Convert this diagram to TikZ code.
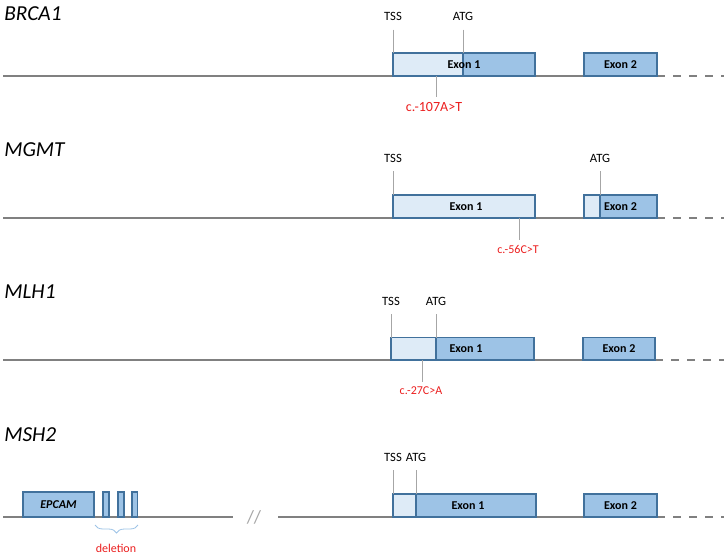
\documentclass[tikz,border=0pt]{standalone}
\usepackage{fontspec}
\setmainfont{Carlito}
\usetikzlibrary{decorations.pathreplacing}
\definecolor{exonfill}{RGB}{157,195,230}
\definecolor{utrfill}{RGB}{222,235,247}
\definecolor{exonline}{RGB}{65,113,156}
\definecolor{dnagray}{RGB}{128,128,128}
\definecolor{tickgray}{RGB}{166,166,166}
\definecolor{mutred}{RGB}{235,30,30}
\begin{document}
\begin{tikzpicture}[x=0.75pt,y=-0.75pt,
  dna/.style={draw=dnagray, line width=1.4pt},
  dnadash/.style={dna, dash pattern=on 6pt off 6pt},
  cds/.style={fill=exonfill, draw=exonline, line width=0.9pt},
  utr/.style={fill=utrfill, draw=exonline, line width=0.9pt},
  exonlabel/.style={font=\fontsize{9}{11}\selectfont\bfseries, inner sep=0pt},
  gene/.style={font=\fontsize{16}{18}\selectfont\itshape, anchor=west, inner sep=0pt},
  site/.style={font=\fontsize{9.5}{11}\selectfont, inner sep=0pt},
  tick/.style={draw=tickgray, line width=0.6pt},
  sitetick/.style={tick, shorten <=6.5pt},
  muttick/.style={tick, shorten >=3.5pt},
  mut/.style={font=\fontsize{9}{11}\selectfont, text=mutred, inner sep=0pt}]
\useasboundingbox (0,0) rectangle (724,556);

% BRCA1
\node[gene] (brca) at (4,14) {BRCA1};
\draw[dna] (3,76) -- (657,76);
\draw[dnadash] (657,76) -- (724,76);
\draw[utr] (393,53) rectangle (463,76);
\draw[cds] (463,53) rectangle (535,76);
\draw[cds] (584,53) rectangle (657,76);
\node[exonlabel] (brcaEa) at (464,64.5) {Exon 1};
\node[exonlabel] (brcaEb) at (620.5,64.5) {Exon 2};
\node[site] (brcaTSS) at (393,16.5) {TSS};
\node[site] (brcaATG) at (463,16.5) {ATG};
\coordinate (brcaTSSpt) at (393,53);
\coordinate (brcaATGpt) at (463,53);
\draw[sitetick] (brcaTSS) -- (brcaTSSpt);
\draw[sitetick] (brcaATG) -- (brcaATGpt);
\coordinate (brcaMutpt) at (436,76);
\node[mut, font=\fontsize{10.5}{12}\selectfont] (brcaMut) at (434,107) {c.-107A>T};
\draw[muttick] (brcaMutpt) -- (brcaMut.north -| brcaMutpt);

% MGMT
\node[gene] (mgmt) at (4,149.5) {MGMT};
\draw[dna] (3,218) -- (657,218);
\draw[dnadash] (657,218) -- (724,218);
\draw[utr] (393,195) rectangle (535,218);
\draw[utr] (584,195) rectangle (600,218);
\draw[cds] (600,195) rectangle (657,218);
\node[exonlabel] (mgmtEa) at (466,206.5) {Exon 1};
\node[exonlabel] (mgmtEb) at (620.5,206.5) {Exon 2};
\node[site] (mgmtTSS) at (393,158) {TSS};
\node[site] (mgmtATG) at (600,158) {ATG};
\coordinate (mgmtTSSpt) at (393,195);
\coordinate (mgmtATGpt) at (600,195);
\draw[sitetick] (mgmtTSS) -- (mgmtTSSpt);
\draw[sitetick] (mgmtATG) -- (mgmtATGpt);
\coordinate (mgmtMutpt) at (519,218);
\node[mut] (mgmtMut) at (518,249) {c.-56C>T};
\draw[muttick] (mgmtMutpt) -- (mgmtMut.north -| mgmtMutpt);

% MLH1
\node[gene] (mlh) at (4,291.5) {MLH1};
\draw[dna] (3,360) -- (655,360);
\draw[dnadash] (655,360) -- (724,360);
\draw[utr] (391,337.5) rectangle (436,360);
\draw[cds] (436,337.5) rectangle (534,360);
\draw[cds] (583,337.5) rectangle (655,360);
\node[exonlabel] (mlhEa) at (466,349) {Exon 1};
\node[exonlabel] (mlhEb) at (619,349) {Exon 2};
\node[site] (mlhTSS) at (391,301) {TSS};
\node[site] (mlhATG) at (436,301) {ATG};
\coordinate (mlhTSSpt) at (391,337.5);
\coordinate (mlhATGpt) at (436,337.5);
\draw[sitetick] (mlhTSS) -- (mlhTSSpt);
\draw[sitetick] (mlhATG) -- (mlhATGpt);
\coordinate (mlhMutpt) at (422,360);
\node[mut] (mlhMut) at (421,391) {c.-27C>A};
\draw[muttick] (mlhMutpt) -- (mlhMut.north -| mlhMutpt);

% MSH2
\node[gene] (msh) at (4,434.5) {MSH2};
\draw[dna] (3,517) -- (233,517);
\draw[dna] (278,517) -- (657,517);
\draw[dnadash] (657,517) -- (724,517);
\node[font=\fontsize{14}{16}\selectfont, text=tickgray, inner sep=0pt] (mshBreak) at (254,517) {//};
\draw[cds] (23,492) rectangle (94,517);
\node[exonlabel, font=\fontsize{9}{11}\selectfont\bfseries\itshape] (mshEpcam) at (58.5,504.5) {EPCAM};
\draw[cds] (103,492) rectangle (109,517);
\draw[cds] (118,492) rectangle (124,517);
\draw[cds] (132,492) rectangle (137.5,517);
\draw[cds, draw=exonfill, fill=none, line width=0.6pt, decorate, decoration={brace, amplitude=6pt, mirror}]
  (95,525) -- (138,525);
\node[mut] (mshDel) at (116,548) {deletion};
\draw[utr] (393,494) rectangle (416,517);
\draw[cds] (416,494) rectangle (536,517);
\draw[cds] (584,494) rectangle (657,517);
\node[exonlabel] (mshEa) at (468,505.5) {Exon 1};
\node[exonlabel] (mshEb) at (620.5,505.5) {Exon 2};
\node[site] (mshTSS) at (393,457) {TSS};
\node[site] (mshATG) at (416,457) {ATG};
\coordinate (mshTSSpt) at (393,494);
\coordinate (mshATGpt) at (416,494);
\draw[sitetick] (mshTSS) -- (mshTSSpt);
\draw[sitetick] (mshATG) -- (mshATGpt);
\end{tikzpicture}
\end{document}
